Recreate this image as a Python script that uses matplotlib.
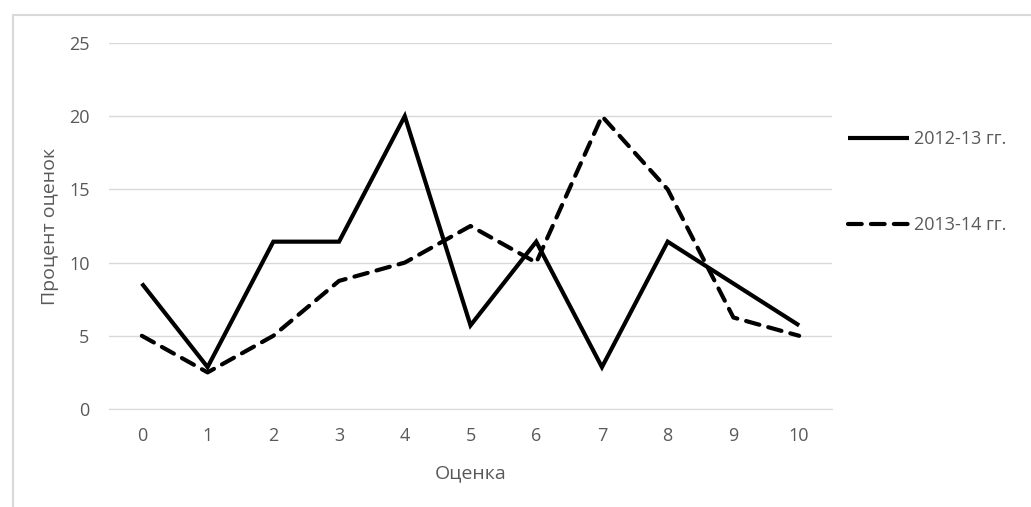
import matplotlib
matplotlib.use("Agg")
import matplotlib.pyplot as plt
from matplotlib.patches import Rectangle

# grades and percent of marks per year
grades = [0, 1, 2, 3, 4, 5, 6, 7, 8, 9, 10]
pct_2012 = [8.57, 2.86, 11.43, 11.43, 20.0, 5.71, 11.43, 2.86, 11.43, 8.57, 5.71]
pct_2013 = [5.0, 2.5, 5.0, 8.75, 10.0, 12.5, 10.0, 20.0, 15.0, 6.25, 5.0]
labels = ["2012-13 гг.", "2013-14 гг."]
y_ticks = [0, 5, 10, 15, 20, 25]

plt.rcParams['font.family'] = ['Open Sans', 'DejaVu Sans']
txt = '#595959'
grid = '#d9d9d9'

fig = plt.figure(figsize=(10.31, 5.07), dpi=100)
ax = fig.add_axes([109/1031, 1 - 409/507, (832-109)/1031, (409-43)/507])

ax.plot(grades, pct_2012, color='black', lw=3, solid_joinstyle='miter',
        solid_capstyle='butt', label=labels[0])
ax.plot(grades, pct_2013, color='black', lw=3, dashes=(3.3, 2.2),
        dash_capstyle='round', label=labels[1])

ax.set_xlim(-0.5, 10.5)
ax.set_ylim(0, 25)
ax.set_xticks(grades)
ax.set_yticks(y_ticks)
ax.grid(axis='y', color=grid, lw=1)
ax.set_axisbelow(True)
for s in ['top', 'right', 'left']:
  ax.spines[s].set_visible(False)
ax.spines['bottom'].set_color(grid)
ax.tick_params(length=0, colors=txt, labelsize=13)
ax.tick_params(axis='x', pad=13)
ax.tick_params(axis='y', pad=14)

ax.set_xlabel("Оценка", color=txt, fontsize=14, labelpad=14)
ax.set_ylabel("Процент оценок", color=txt, fontsize=14, labelpad=7)

leg = fig.legend(loc='center left', bbox_to_anchor=(848/1031, 1 - 182/507),
                 frameon=False, fontsize=13, handlelength=3.4, handletextpad=0.25,
                 labelspacing=3.75, borderpad=0, borderaxespad=0)
for t in leg.get_texts():
  t.set_color(txt)

# chart area border (cropped on the right and bottom)
fig.patches.append(Rectangle((13/1031, -0.1), 1.2, 1 - 15/507 + 0.1,
                             transform=fig.transFigure, fill=False,
                             edgecolor=grid, lw=1.5))

fig.savefig("out.png", dpi=100)
